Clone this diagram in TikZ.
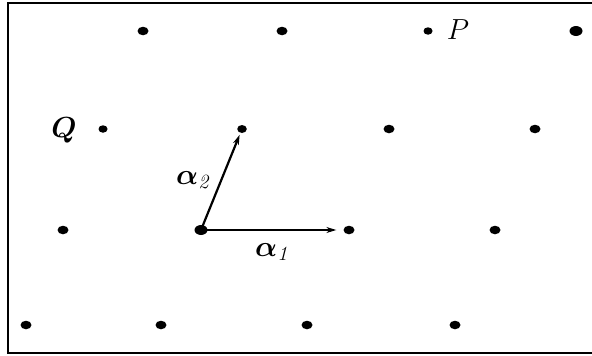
\documentclass[tikz,border=0pt]{standalone}
\usepackage{amsmath,amssymb,bm}
\usetikzlibrary{arrows.meta,shapes.geometric}

\begin{document}
\begin{tikzpicture}[x=1pt,y=-1pt,>={Stealth[length=10pt,width=6pt]},line cap=round,
  latpt/.style={ellipse,fill=black,inner sep=0pt,minimum width=11pt,minimum height=8.5pt},
  lbl/.style={font=\fontsize{20}{24}\selectfont,scale=1.4}]
\useasboundingbox (0,0) rectangle (592,356);
\draw[line width=2pt] (592,2.5) -- (7.5,2.5) -- (7.5,353) -- (592,353);
\node[latpt] (p11) at (143,31) {};
\node[latpt] (p12) at (282,31) {};
\node[latpt,minimum width=9pt,minimum height=7.5pt] (p13) at (428,31) {};
\node[latpt,minimum width=13pt,minimum height=10pt] (p14) at (576,31) {};
\node[latpt,minimum width=9pt,minimum height=7.5pt] (p21) at (103,129) {};
\node[latpt,minimum width=9.5pt,minimum height=8pt] (p22) at (242,129) {};
\node[latpt] (p23) at (389,129) {};
\node[latpt] (p24) at (535,129) {};
\node[latpt] (p31) at (63,230) {};
\node[latpt,minimum width=13pt,minimum height=10pt] (p32) at (201,230) {};
\node[latpt] (p33) at (349,230) {};
\node[latpt] (p34) at (495,230) {};
\node[latpt] (p41) at (26,325) {};
\node[latpt] (p42) at (161,325) {};
\node[latpt] (p43) at (307,325) {};
\node[latpt] (p44) at (455,325) {};
\node[lbl] (lp) at (458,30) {$P$};
\node[lbl] (lq) at (64,130) {$\boldsymbol{Q}$};
\draw[->,line width=1.1pt,shorten >=7pt] (p32.center) -- (p33);
\draw[->,line width=2.2pt,shorten >=2pt] (p32.center) -- (p22);
\node[lbl] (la1) at (273,252) {$\boldsymbol{\alpha}_{\mathit{1}}$};
\node[lbl] (la2) at (194,180) {$\boldsymbol{\alpha}_{\mathit{2}}$};
\end{tikzpicture}
\end{document}
